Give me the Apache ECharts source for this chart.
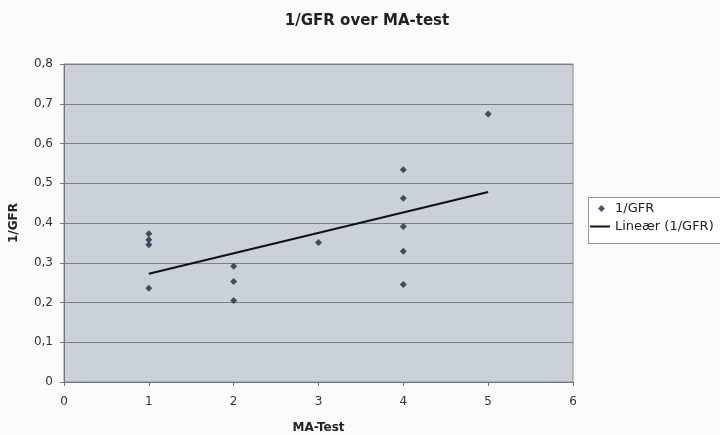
<!DOCTYPE html>
<html>
<head>
<meta charset="utf-8">
<script src="https://cdn.jsdelivr.net/npm/echarts@6/dist/echarts.min.js"></script>
<style>
html,body{margin:0;padding:0;background:#fbfbfb;}
#c{width:720px;height:435px;}
</style>
</head>
<body>
<div id="c"></div>
<script>
// Data
const maTest = [1, 1, 1, 1, 2, 2, 2, 3, 4, 4, 4, 4, 4, 5];
const gfrInv = [0.373, 0.358, 0.345, 0.236, 0.291, 0.253, 0.205, 0.351, 0.534, 0.462, 0.391, 0.329, 0.245, 0.674];
const yTicks = ['0', '0,1', '0,2', '0,3', '0,4', '0,5', '0,6', '0,7', '0,8'];
const xTicks = ['0', '1', '2', '3', '4', '5', '6'];

// linear trendline (least squares)
const n = maTest.length;
const mx = maTest.reduce((a, b) => a + b, 0) / n;
const my = gfrInv.reduce((a, b) => a + b, 0) / n;
let sxy = 0, sxx = 0;
for (let i = 0; i < n; i++) { sxy += (maTest[i] - mx) * (gfrInv[i] - my); sxx += (maTest[i] - mx) ** 2; }
const slope = sxy / sxx, icpt = my - slope * mx;
const xMin = Math.min(...maTest), xMax = Math.max(...maTest);
const trend = [[xMin, icpt + slope * xMin], [xMax, icpt + slope * xMax]];

const chart = echarts.init(document.getElementById('c'));
const font = 'DejaVu Sans, Verdana, sans-serif';
const legendText = { fontFamily: font, fontSize: 13, color: '#222' };
chart.setOption({
  animation: false,
  backgroundColor: '#fbfbfb',
  title: {
    text: '1/GFR over MA-test', left: 362, top: 9, textAlign: 'center',
    textStyle: { fontFamily: font, fontSize: 15, fontWeight: 'bold', color: '#222' }
  },
  graphic: [{
    type: 'rect', left: 588, top: 197, z: -1,
    shape: { width: 140, height: 46 },
    style: { fill: '#ffffff', stroke: '#999', lineWidth: 1 }
  }],
  grid: { left: 64, right: 147, top: 64, bottom: 53, outerBoundsMode: 'none', containLabel: false,
    show: true, backgroundColor: '#cad1d8', borderColor: '#8a8a8a', borderWidth: 1 },
  xAxis: {
    type: 'value', min: 0, max: 6, interval: 1,
    name: 'MA-Test', nameLocation: 'middle', nameGap: 40,
    nameTextStyle: { fontFamily: font, fontSize: 12, fontWeight: 'bold', color: '#222' },
    axisLine: { show: true, lineStyle: { color: '#777' } },
    axisTick: { show: true, length: 4, lineStyle: { color: '#777' } },
    axisLabel: { fontFamily: font, fontSize: 12, color: '#333', margin: 14, formatter: v => xTicks[v] },
    splitLine: { show: false }
  },
  yAxis: {
    type: 'value', min: 0, max: 0.8, interval: 0.1,
    name: '1/GFR', nameLocation: 'middle', nameGap: 44, nameRotate: 90,
    nameTextStyle: { fontFamily: font, fontSize: 12, fontWeight: 'bold', color: '#222' },
    axisLine: { show: true, lineStyle: { color: '#777' } },
    axisTick: { show: true, length: 4, lineStyle: { color: '#777' } },
    axisLabel: { fontFamily: font, fontSize: 12, color: '#333', margin: 11, formatter: v => yTicks[Math.round(v * 10)] },
    splitLine: { show: true, lineStyle: { color: '#7c8085', width: 1 } }
  },
  legend: [
    {
      orient: 'vertical', left: 598, top: 202, padding: 0,
      itemWidth: 7, itemHeight: 7, itemGap: 8,
      textStyle: Object.assign({ padding: [0, 0, 0, 5] }, legendText),
      data: [{ name: '1/GFR', icon: 'diamond' }]
    },
    {
      orient: 'vertical', left: 590, top: 220, padding: 0,
      itemWidth: 20, itemHeight: 2, itemGap: 3,
      textStyle: legendText,
      data: [{ name: 'Lineær (1/GFR)', icon: 'rect' }]
    }
  ],
  series: [
    {
      name: '1/GFR', type: 'scatter', symbol: 'diamond', symbolSize: 7,
      itemStyle: { color: '#1c2a48' },
      data: maTest.map((x, i) => [x, gfrInv[i]])
    },
    {
      name: 'Lineær (1/GFR)', type: 'line', showSymbol: false, symbol: 'none',
      lineStyle: { color: '#111', width: 2 }, itemStyle: { color: '#111' },
      data: trend
    }
  ]
});
</script>
</body>
</html>
